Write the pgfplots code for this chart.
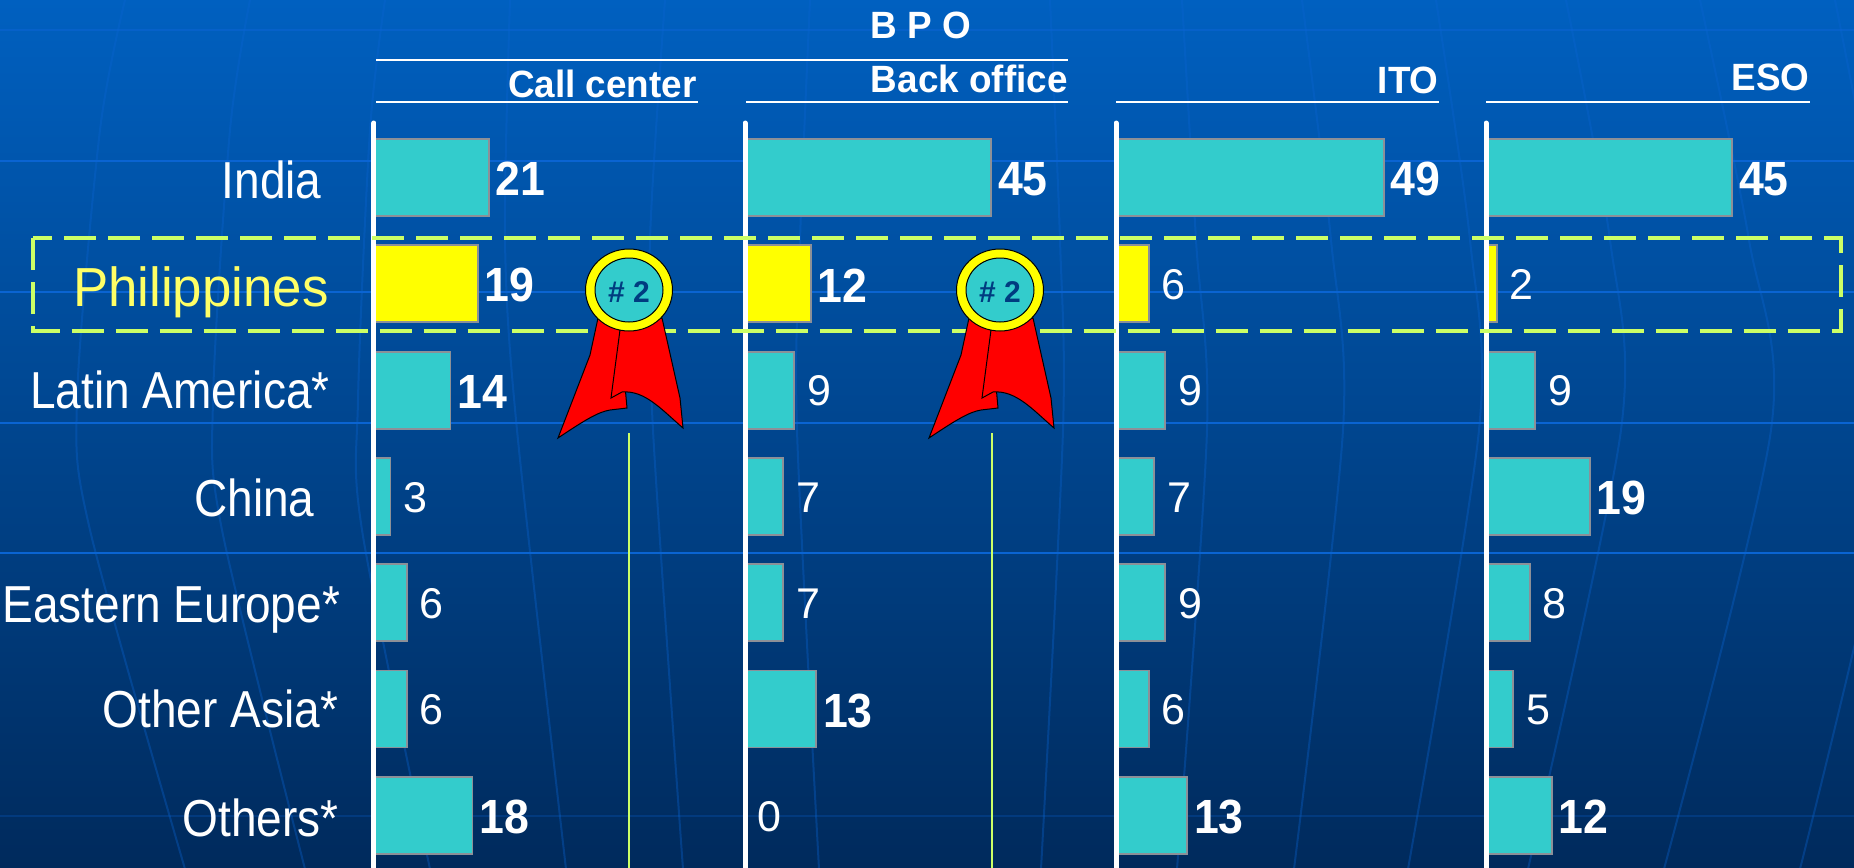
\documentclass[border=0pt]{standalone}
\usepackage{fontspec}
\setmainfont{Liberation Sans}
\newfontfamily\catfont[FakeStretch=0.885]{Liberation Sans}
\newfontfamily\phfont[FakeStretch=0.96]{Liberation Sans}
\newfontfamily\hdfont[FakeStretch=0.97]{Liberation Sans}
\newfontfamily\numfont[FakeStretch=0.93]{Liberation Sans}
\usepackage{pgfplots}
\pgfplotsset{compat=1.18}

\definecolor{bgtop}{HTML}{0060C0}
\definecolor{bgbot}{HTML}{002A5C}
\definecolor{barteal}{HTML}{33CCCC}
\definecolor{bargray}{HTML}{8C9098}
\definecolor{dashgreen}{HTML}{CCFF66}
\definecolor{gridblue}{HTML}{0A64D2}
\definecolor{numblue}{HTML}{003C80}
\definecolor{pureyellow}{HTML}{FFFF00}
\definecolor{labelyellow}{HTML}{FFFF66}

\newcommand{\numfontb}{\numfont\fontsize{24}{28}\selectfont\bfseries}
\newcommand{\numfontr}{\fontsize{21.5}{26}\selectfont}
% label text, gap to the axis, raise
\newcommand{\catlab}[3]{\raisebox{#3}{\catfont\fontsize{26}{30}\selectfont #1}\hspace{#2}\null}

% one panel: 1px = 0.5pt, bars 5.47px per unit
\pgfplotsset{
  panel/.style={
    xbar, scale only axis, width=150pt, height=373pt,
    xmin=0, xmax=54.84, ymin=-0.5127, ymax=6.505, y dir=reverse,
    axis y line=left, axis x line=none,
    axis line style={-, white, line width=2.5pt, line cap=round},
    xtick=\empty, ytick=\empty, major tick length=0pt,
    axis on top, clip=false, anchor=south west,
    bar width=38.5pt,
    point meta=x,
    nodes near coords,
    nodes near coords align=horizontal,
    /pgf/number format/assume math mode=true,
  },
  big/.style={bar shift=0pt, fill=barteal, draw=bargray, line width=0.9pt,
    every node near coord/.append style={text=white, inner sep=0pt, xshift=3pt, yshift=-0.75pt, font=\numfontb}},
  small/.style={bar shift=0pt, fill=barteal, draw=bargray, line width=0.9pt,
    every node near coord/.append style={text=white, inner sep=0pt, xshift=6pt, yshift=-0.5pt, font=\numfontr}},
  ybig/.style={big, fill=pureyellow},
  ysmall/.style={small, fill=pureyellow},
}

\newcommand{\medal}[1]{%
  \begin{scope}[xshift=#1*0.5pt]
    \filldraw[fill=red, draw=black, line width=0.5pt]
      (598,318) -- (590,355) -- (558,438) .. controls (585,420) and (598,412) .. (610,410)
      -- (627,408) -- (620,330) -- cycle;
    \filldraw[fill=red, draw=black, line width=0.5pt]
      (620,330) -- (611,398) -- (622,392) .. controls (645,390) and (662,410) .. (683,428)
      -- (680,398) -- (662,318) -- cycle;
    \filldraw[fill=pureyellow, draw=black, line width=0.5pt] (629,290) ellipse (43.5 and 41);
    \filldraw[fill=barteal, draw=black, line width=0.5pt] (629,290) ellipse (34 and 32);
    \node[text=numblue, font=\fontsize{15}{18}\selectfont\bfseries] at (629,292) {\# 2};
  \end{scope}}
\newcommand{\gl}[1]{\draw[gridblue, opacity=0.35, line width=1pt] plot[smooth] coordinates {#1};}

\begin{document}
\begin{tikzpicture}
\path[use as bounding box] (0pt,0pt) rectangle (927pt,-434pt);
\begin{scope}[x=0.5pt, y=-0.5pt]
  \clip (0,0) rectangle (1854,869);
  \shade[top color=bgtop, bottom color=bgbot] (0,0) rectangle (1854,869);
  % faint globe lines
  \gl{(125,0) (100,130) (77,400) (90,530) (185,869)}
  \gl{(250,0) (230,130) (213,400) (222,530) (305,869)}
  \gl{(385,0) (370,130) (358,400) (362,530) (430,869)}
  \gl{(510,0) (505,240) (517,430) (566,869)}
  \gl{(665,0) (650,240) (653,430) (683,869)}
  \gl{(810,0) (800,240) (797,430) (819,869)}
  \gl{(1050,0) (1060,240) (1063,430) (1041,869)}
  \gl{(1182,0) (1196,240) (1207,430) (1177,869)}
  \gl{(1302,0) (1331,240) (1343,430) (1294,869)}
  \gl{(1436,0) (1470,240) (1479,430) (1408,869)}
  \gl{(1566,0) (1610,240) (1621,430) (1528,869)}
  \gl{(1700,0) (1749,240) (1771,430) (1664,869)}
  \gl{(1835,0) (1880,240) (1900,430) (1800,869)}
  \draw[gridblue, opacity=0.6, line width=1.2pt] (0,30) -- (1854,30);
  \foreach \y in {161,292,423,553} {
    \draw[gridblue, line width=1.2pt] (0,\y) -- (1854,\y);
  }
  \draw[gridblue, opacity=0.25, line width=1.2pt] (0,816) -- (1854,816);
\end{scope}

\begin{axis}[panel, at={(187pt,-434.5pt)},
    ytick={0,1,2,3,4,5,6},
    yticklabels={
      {\catlab{India}{26pt}{0pt}},
      {\raisebox{-1.25pt}{\phfont\fontsize{27.5}{30}\selectfont\textcolor{labelyellow}{Philippines}}\hspace{22.5pt}\null},
      {\catlab{Latin America*}{22pt}{1.25pt}},
      {\catlab{China}{29.5pt}{0pt}},
      {\catlab{Eastern Europe*}{16.75pt}{0.5pt}},
      {\catlab{Other Asia*}{17.75pt}{1pt}},
      {\catlab{Others*}{17.5pt}{-0.5pt}}},
    y tick label style={anchor=base east, inner sep=0pt, text=white, yshift=-10.25pt},
  ]
  \addplot[big] coordinates {(21,0) (14,2) (18,6)};
  \addplot[small] coordinates {(3,3) (6,4) (6,5)};
  \addplot[ybig] coordinates {(19,1)};
\end{axis}

\begin{axis}[panel, at={(372.5pt,-434.5pt)}]
  \addplot[big] coordinates {(45,0) (13,5)};
  \addplot[small] coordinates {(9,2) (7,3) (7,4) (0,6)};
  \addplot[ybig] coordinates {(12,1)};
\end{axis}

\begin{axis}[panel, at={(558pt,-434.5pt)}]
  \addplot[big] coordinates {(49,0) (13,6)};
  \addplot[small] coordinates {(9,2) (7,3) (9,4) (6,5)};
  \addplot[ysmall] coordinates {(6,1)};
\end{axis}

\begin{axis}[panel, at={(743pt,-434.5pt)}]
  \addplot[big] coordinates {(45,0) (19,3) (12,6)};
  \addplot[small] coordinates {(9,2) (8,4) (5,5)};
  \addplot[ysmall] coordinates {(2,1)};
\end{axis}

\begin{scope}[x=0.5pt, y=-0.5pt]
  % group headers
  \draw[white, line width=1pt] (376,60) -- (1068,60);
  \draw[white, line width=1pt] (376,102) -- (698,102);
  \draw[white, line width=1pt] (746,102) -- (1068,102);
  \draw[white, line width=1pt] (1116,102) -- (1439,102);
  \draw[white, line width=1pt] (1486,102) -- (1810,102);
  \tikzset{hd/.style={text=white, inner sep=0pt, font=\hdfont\fontsize{19}{22}\selectfont\bfseries}}
  \node[hd, anchor=base] at (921,38) {B P O};
  \node[hd, anchor=base east] at (697,97) {Call center};
  \node[hd, anchor=base east] at (1068,92) {Back office};
  \node[hd, anchor=base east] at (1439,93) {ITO};
  \node[hd, anchor=base east] at (1810,90) {ESO};
  % highlight box and medals
  \draw[dashgreen, line width=2pt, dash pattern=on 16pt off 6pt] (32.5,238) rectangle (1841,331);
  \draw[dashgreen, line width=1.2pt] (629,433) -- (629,869);
  \draw[dashgreen, line width=1.2pt] (992,433) -- (992,869);
  \medal{0}
  \medal{371}
\end{scope}
\end{tikzpicture}
\end{document}
